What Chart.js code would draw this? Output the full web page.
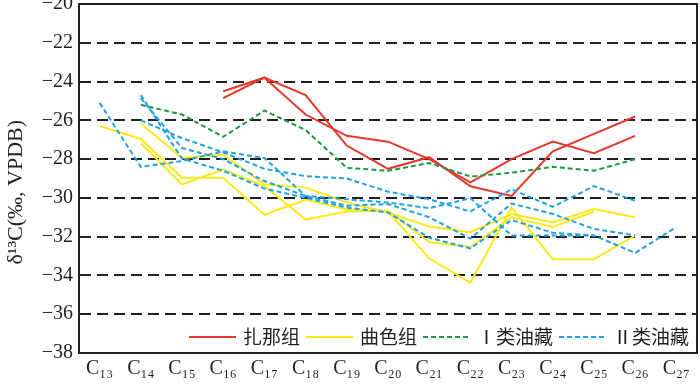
<!DOCTYPE html>
<html lang="zh">
<head>
<meta charset="UTF-8">
<title>δ13C 分布</title>
<script src="https://cdn.jsdelivr.net/npm/chart.js"></script>
<style>
  html, body { margin: 0; padding: 0; background: #fff; }
</style>
</head>
<body>
<canvas id="chart" width="700" height="385"></canvas>
<script>
// 碳数
const categories = ['C₁₃', 'C₁₄', 'C₁₅', 'C₁₆', 'C₁₇', 'C₁₈', 'C₁₉', 'C₂₀', 'C₂₁', 'C₂₂', 'C₂₃', 'C₂₄', 'C₂₅', 'C₂₆', 'C₂₇'];
const yTicks = [-38, -36, -34, -32, -30, -28, -26, -24, -22, -20];

// 扎那组
const zanaA = [null, null, null, -24.5, -23.8, -24.7, -27.3, -28.5, -27.9, -29.4, -29.9, -27.6, -26.7, -25.8, null];
const zanaB = [null, null, null, -24.85, -23.8, -25.7, -26.8, -27.1, -28.0, -29.2, -28.0, -27.1, -27.7, -26.8, null];

// 曲色组
const quseA = [-26.3, -26.96, -28.96, -28.96, -30.87, -30.1, -30.6, -30.7, -33.13, -34.37, -30.5, -33.16, -33.16, -31.94, null];
const quseB = [null, -26.16, -27.94, -27.77, -29.3, -29.47, -30.24, -30.75, -31.48, -31.77, -30.83, -31.26, -30.58, -31.0, null];
const quseC = [null, -27.18, -29.3, -28.54, -29.39, -31.12, -30.7, -30.66, -32.28, -32.53, -31.0, -31.5, -30.7, null, null];

// I类油藏
const type1 = [null, -25.2, -25.7, -26.85, -25.5, -26.5, -28.45, -28.6, -28.2, -28.9, -28.7, -28.4, -28.6, -28.0, null];

// II类油藏
const type2A = [null, -24.85, -27.43, -28.0, -29.13, -29.9, -30.4, -30.32, -31.0, -32.1, -30.29, -30.83, -31.6, -31.94, null];
const type2B = [-25.1, -28.4, -28.1, -27.6, -27.94, -29.9, -30.07, -30.24, -30.53, -30.02, -31.94, -31.94, -31.94, null, null];
const type2C = [null, -24.7, -27.98, -28.6, -29.52, -30.0, -30.5, -30.75, -32.06, -32.6, -31.14, -31.8, -31.94, -32.84, -31.5];
const type2D = [null, -26.0, -26.92, -27.65, -28.5, -28.88, -29.0, -29.68, -30.07, -30.7, -29.56, -30.46, -29.39, -30.15, null];

const groupNames = ['扎那组', '曲色组', 'Ⅰ类油藏', 'Ⅱ类油藏'];
const groupColors = ['#e5372c', '#ffe818', '#1c9a40', '#1ea3e3'];
const groupDash = [[], [], [5, 3], [5, 3]];

const groups = [
  { series: [zanaA, zanaB], g: 0 },
  { series: [quseA, quseB, quseC], g: 1 },
  { series: [type1], g: 2 },
  { series: [type2A, type2B, type2C, type2D], g: 3 }
];

const datasets = [];
// 先画II类，再画其它
[3, 1, 2, 0].forEach(idx => {
  const grp = groups[idx];
  grp.series.forEach(s => {
    datasets.push({
      label: groupNames[grp.g],
      data: s,
      borderColor: groupColors[grp.g],
      borderWidth: 2,
      borderDash: groupDash[grp.g],
      pointRadius: 0,
      tension: 0,
      fill: false
    });
  });
});

const ink = '#231f20';

// 外框
const framePlugin = {
  id: 'frame',
  afterDraw(chart) {
    const { ctx, chartArea: a } = chart;
    ctx.save();
    ctx.strokeStyle = ink;
    ctx.lineWidth = 2;
    ctx.setLineDash([]);
    ctx.strokeRect(a.left, a.top, a.right - a.left, a.bottom - a.top);
    ctx.restore();
  }
};

// 图例
const legendPlugin = {
  id: 'groupLegend',
  afterDraw(chart) {
    const ctx = chart.ctx;
    const y = 337;
    const lineLen = 47, gapA = 7, gapB = 6;
    ctx.save();
    ctx.font = '19px "Noto Sans CJK SC"';
    ctx.textBaseline = 'middle';
    const widths = groupNames.map(t => ctx.measureText(t).width);
    const total = widths.reduce((a, b) => a + b, 0) + groupNames.length * (lineLen + gapA) + (groupNames.length - 1) * gapB;
    let x = chart.chartArea.right - 8 - total;
    groupNames.forEach((name, i) => {
      ctx.strokeStyle = groupColors[i];
      ctx.lineWidth = 2;
      ctx.setLineDash(groupDash[i]);
      ctx.beginPath();
      ctx.moveTo(x, y);
      ctx.lineTo(x + lineLen, y);
      ctx.stroke();
      x += lineLen + gapA;
      ctx.fillStyle = ink;
      ctx.fillText(name, x, y);
      x += widths[i] + gapB;
    });
    ctx.restore();
  }
};

new Chart(document.getElementById('chart'), {
  type: 'line',
  data: { labels: categories, datasets: datasets },
  plugins: [framePlugin, legendPlugin],
  options: {
    responsive: false,
    devicePixelRatio: 1,
    animation: false,
    layout: { padding: { left: 0, right: 3, top: 4, bottom: 0 } },
    plugins: {
      legend: { display: false },
      tooltip: { enabled: false }
    },
    scales: {
      x: {
        offset: true,
        grid: { display: false, drawTicks: false },
        border: { display: true, color: ink, width: 2 },
        ticks: {
          color: ink,
          font: { family: '"Liberation Serif"', size: 20 },
          padding: 4,
          maxRotation: 0,
          autoSkip: false
        },
        afterFit(scale) { scale.height = 32; }
      },
      y: {
        min: -38,
        max: -20,
        afterBuildTicks(scale) { scale.ticks = yTicks.map(v => ({ value: v })); },
        grid: {
          drawTicks: false,
          lineWidth: 2,
          color: c => (c.tick && (c.tick.value === -20 || c.tick.value === -38)) ? 'rgba(0,0,0,0)' : ink
        },
        border: { display: true, color: ink, width: 2, dash: [11, 6] },
        ticks: {
          color: ink,
          font: { family: '"Liberation Serif"', size: 20 },
          padding: 6,
          callback: v => '−' + Math.abs(v)
        },
        title: {
          display: true,
          text: 'δ¹³C(‰, VPDB)\u2003 ',
          color: ink,
          font: { family: '"Liberation Serif"', size: 22 },
          padding: { top: 3, bottom: 0 }
        },
        afterFit(scale) {
          scale.width = 79;
          scale.paddingTop = 0;
          scale.paddingBottom = 0;
        }
      }
    }
  }
});
</script>
</body>
</html>
